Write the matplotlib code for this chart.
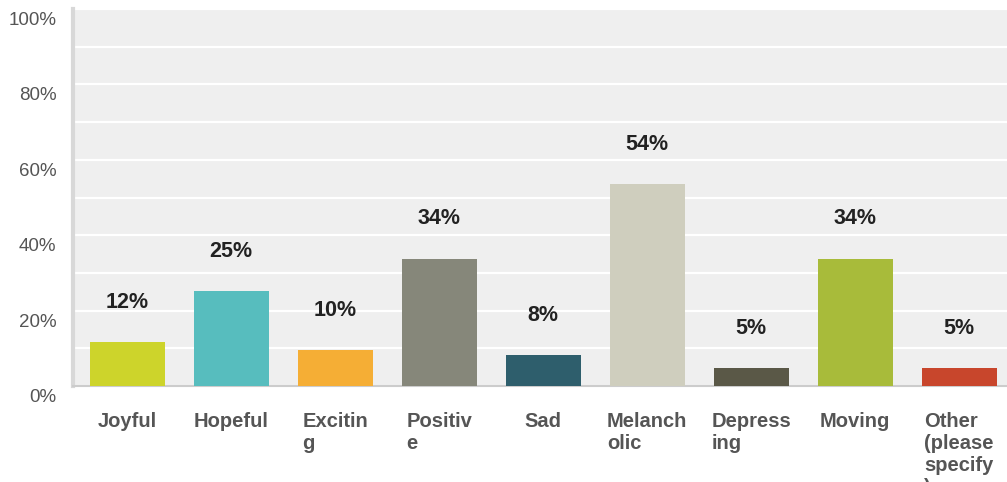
import numpy as np
import matplotlib.pyplot as plt
from matplotlib.transforms import ScaledTranslation

# Data
categories = ["Joyful", "Hopeful", "Excitin\ng", "Positiv\ne", "Sad",
              "Melanch\nolic", "Depress\ning", "Moving", "Other\n(please\nspecify\n)"]
values = [11.7, 25.2, 9.6, 33.8, 8.2, 53.6, 4.8, 33.8, 4.8]
value_labels = ["12%", "25%", "10%", "34%", "8%", "54%", "5%", "34%", "5%"]
colors = ["#cdd42b", "#57bdbe", "#f5ae35", "#86877a", "#2e5e6c",
          "#cfcebe", "#5a5847", "#a8bb3a", "#c8462c"]
yticks = [0, 20, 40, 60, 80, 100]

plt.rcParams['font.family'] = ['Liberation Sans', 'DejaVu Sans']

fig = plt.figure(figsize=(10.07, 4.82), dpi=100)
ax = fig.add_axes([73 / 1007, 96 / 482, 1 - 73 / 1007, 377 / 482])
ax.set_facecolor("#efefef")

x = np.arange(len(categories))
ax.bar(x, values, width=0.72, color=colors, zorder=3)

for xi, v, lab in zip(x, values, value_labels):
    ax.annotate(lab, (xi, v), xytext=(0, 21), textcoords="offset points",
                ha="center", va="bottom", fontsize=15.5, fontweight="bold",
                color="#222222")

ax.set_xlim(-0.52, 8.46)
ax.set_ylim(0, 100)

# gridlines every 10%
ax.set_yticks(np.arange(0, 101, 10), minor=True)
ax.grid(axis="y", which="both", color="white", linewidth=1.6, zorder=1)
ax.set_yticks(yticks)
ax.set_yticklabels(["{}%".format(t) for t in yticks], fontsize=13.5,
                   color="#555555", va="top")
ax.tick_params(axis="y", which="both", length=0, pad=12)
shift = ScaledTranslation(0, -3 / 100, fig.dpi_scale_trans)
for lab in ax.get_yticklabels():
    lab.set_transform(lab.get_transform() + shift)

ax.set_xticks(x)
ax.set_xticklabels(categories, fontsize=14.5, fontweight="bold",
                   color="#555555", multialignment="left")
ax.tick_params(axis="x", length=0, pad=19)

for s in ["top", "right"]:
    ax.spines[s].set_visible(False)
ax.spines["left"].set_color("#d8d8d8")
ax.spines["left"].set_linewidth(3)
ax.spines["bottom"].set_color("#cccccc")
ax.spines["bottom"].set_linewidth(1.5)
ax.set_axisbelow(True)

fig.savefig("out.png", dpi=100)
